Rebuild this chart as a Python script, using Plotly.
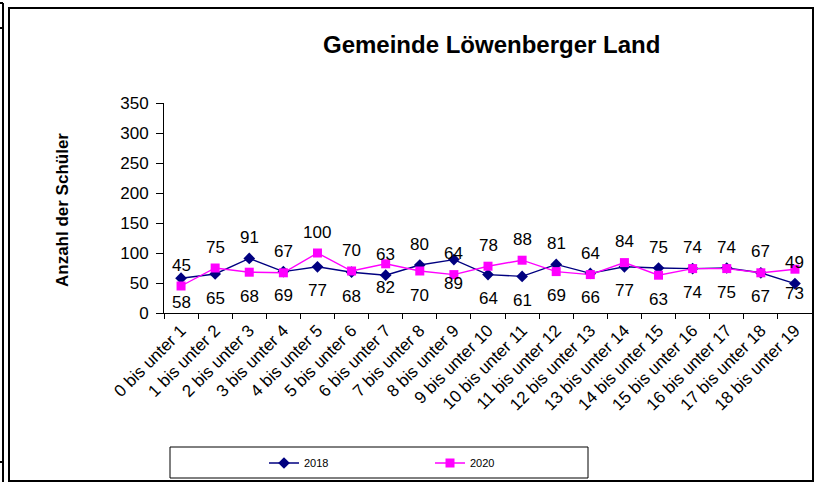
import plotly.graph_objects as go

categories = [f"{i} bis unter {i+1}" for i in range(19)]
values_2018 = [58, 65, 91, 69, 77, 68, 63, 80, 89, 64, 61, 81, 66, 77, 75, 74, 75, 67, 49]
values_2020 = [45, 75, 68, 67, 100, 70, 82, 70, 64, 78, 88, 69, 64, 84, 63, 74, 74, 67, 73]
# label placement as in the reference: "t" = above the point, "b" = below
labelpos_2018 = ["b", "b", "t", "b", "b", "b", "t", "t", "b", "b", "b", "t", "b", "b", "t", "b", "b", "b", "t"]
labelpos_2020 = ["t", "t", "b", "t", "t", "t", "b", "b", "t", "t", "t", "b", "t", "t", "b", "t", "t", "t", "b"]
y_ticks = [0, 50, 100, 150, 200, 250, 300, 350]

FONT = "Liberation Sans, Arial, sans-serif"
W, H = 814, 482
L, R, T, B = 164, 2, 103, 169
PW, PH = W - L - R, H - T - B


def px(x):
    return (x - L) / PW


def py(y):
    return (H - B - y) / PH


fig = go.Figure()
fig.add_trace(go.Scatter(
    x=categories, y=values_2018, name="2018", mode="lines+markers",
    line=dict(color="#000080", width=1.4),
    marker=dict(symbol="diamond", size=9, color="#000080"),
))
fig.add_trace(go.Scatter(
    x=categories, y=values_2020, name="2020", mode="lines+markers",
    line=dict(color="#FF00FF", width=1.4),
    marker=dict(symbol="square", size=9, color="#FF00FF"),
))

annotations = []
for vals, pos in ((values_2018, labelpos_2018), (values_2020, labelpos_2020)):
    for c, v, p in zip(categories, vals, pos):
        annotations.append(dict(
            x=c, y=v, xref="x", yref="y", text=str(v), showarrow=False,
            yshift=21 if p == "t" else -24,
            font=dict(family=FONT, size=17, color="black"),
        ))

annotations.append(dict(
    x=px(491), y=py(44), xref="paper", yref="paper", xanchor="center", yanchor="middle",
    text="<b>Gemeinde Löwenberger Land</b>", showarrow=False,
    font=dict(family=FONT, size=24, color="black"),
))
annotations.append(dict(
    x=px(62), y=py(210), xref="paper", yref="paper", xanchor="center", yanchor="middle",
    text="<b>Anzahl der Schüler</b>", showarrow=False, textangle=-90,
    font=dict(family=FONT, size=17, color="black"),
))

shapes = [
    # chart frame
    dict(type="rect", xref="paper", yref="paper",
         x0=px(9), x1=px(813), y0=py(481), y1=py(8),
         line=dict(color="black", width=2)),
    # left sheet border pieces
    dict(type="line", xref="paper", yref="paper",
         x0=px(3), x1=px(3), y0=py(482), y1=py(3),
         line=dict(color="black", width=2)),
    dict(type="line", xref="paper", yref="paper",
         x0=px(0), x1=px(3), y0=py(3), y1=py(3),
         line=dict(color="black", width=2)),
    dict(type="line", xref="paper", yref="paper",
         x0=px(0), x1=px(3), y0=py(28), y1=py(28),
         line=dict(color="black", width=2)),
    dict(type="line", xref="paper", yref="paper",
         x0=px(0), x1=px(3), y0=py(462), y1=py(462),
         line=dict(color="black", width=2)),
    # legend box
    dict(type="rect", xref="paper", yref="paper",
         x0=px(170), x1=px(588), y0=py(478), y1=py(447),
         line=dict(color="black", width=1)),
]

fig.update_layout(
    width=W, height=H,
    margin=dict(l=L, r=R, t=T, b=B),
    paper_bgcolor="white", plot_bgcolor="white",
    font=dict(family=FONT, color="black"),
    showlegend=True,
    legend=dict(
        orientation="h", x=px(264), y=py(463), xanchor="left", yanchor="middle",
        font=dict(family=FONT, size=11, color="black"),
        entrywidth=121, entrywidthmode="pixels",
        bgcolor="rgba(0,0,0,0)", borderwidth=0,
    ),
    annotations=annotations,
    shapes=shapes,
)
fig.update_xaxes(
    type="category", range=[-0.5, 18.5],
    showline=True, linecolor="black", linewidth=1,
    ticks="outside", tickson="boundaries", ticklen=5, tickcolor="black",
    tickangle=-45, tickfont=dict(family=FONT, size=17, color="black"),
    showgrid=False, zeroline=False,
)
fig.update_yaxes(
    range=[0, 350], tickvals=y_ticks,
    showline=True, linecolor="black", linewidth=1,
    ticks="outside", ticklen=7, tickcolor="black", ticklabelstandoff=4,
    tickfont=dict(family=FONT, size=17, color="black"),
    showgrid=False, zeroline=False,
)

fig.write_html(
    "out.html",
    config={"displayModeBar": False},
    post_script="document.body.style.margin='0';document.body.style.overflow='hidden';",
)
